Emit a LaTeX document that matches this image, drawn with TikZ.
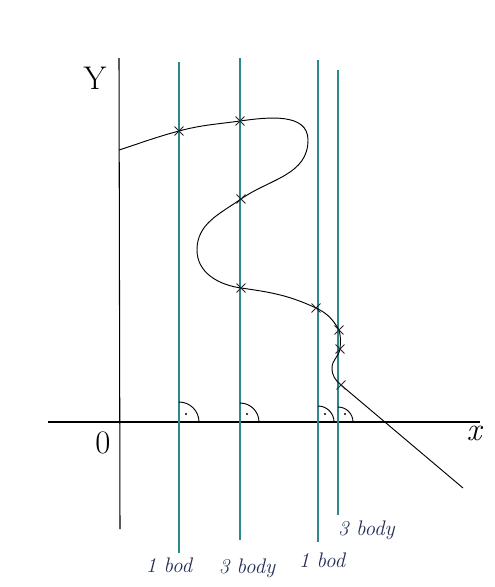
\documentclass[tikz,border=0pt]{standalone}
\usepackage{xcolor}
\usepackage{tikz}
\usetikzlibrary{positioning,shapes.misc}

\definecolor{lineteal}{RGB}{45,135,140}
\definecolor{inkblue}{RGB}{35,45,85}

\begin{document}
\begin{tikzpicture}[x=0.03cm,y=-0.03cm,
  axis/.style={draw=black,line width=0.9pt},
  vline/.style={draw=lineteal,line width=0.95pt},
  xmark/.style={draw=black!85,cross out,line width=0.8pt,minimum size=0.24cm,inner sep=0pt},
  angmark/.style={draw=black,line width=0.8pt},
  hand/.style={text=inkblue,font=\itshape\fontsize{18}{20}\selectfont,inner sep=0pt},
  axlabel/.style={text=black,font=\fontsize{28}{30}\selectfont,inner sep=0pt}]
  \useasboundingbox (0,0) rectangle (494,587);
  % axes
  \coordinate (yb) at (120,529);
  \coordinate (yt) at (119,58);
  \coordinate (xl) at (48,422);
  \coordinate (xr) at (480,422);
  \draw[axis] (yb) -- (yt);
  \draw[axis] (xl) -- (xr);
  \node[axlabel] (ylab) at (95,78) {Y};
  \node[axlabel] (xlab) at (474,433) {\itshape x};
  \node[axlabel] (orig) at (103,443) {0};
  % vertical lines with right angle marks
  \foreach \n/\x/\t/\b/\r in {a/179/62/553/20, b/240/58/540/19, c/318/60/542/16, d/338/70/515/15} {
    \coordinate (top-\n) at (\x,\t);
    \coordinate (bot-\n) at (\x,\b);
    \draw[vline] (top-\n) -- (bot-\n);
    \draw[angmark] (\x,422-\r) arc[start angle=90,end angle=0,radius=\r*0.03cm];
    \fill (\x+7,414) circle (0.9pt);
  }
  \node[hand,below=0.15cm of bot-a,xshift=-0.3cm] (la) {1 bod};
  \node[hand,below=0.57cm of bot-b,xshift=0.21cm] (lb) {3 body};
  \node[hand,below=0.33cm of bot-c,xshift=0.12cm] (lc) {1 bod};
  \node[hand,below=0.18cm of bot-d,anchor=north west] (ld) {3 body};
  % the curve
  \coordinate (s) at (119,150);
  \coordinate (p1) at (179,131);
  \coordinate (p2) at (240,121);
  \coordinate (rt) at (308,140);
  \coordinate (p3) at (241,199);
  \coordinate (lf) at (197,250);
  \coordinate (p4) at (241,288);
  \coordinate (p5) at (316,308);
  \coordinate (p6) at (339,330);
  \coordinate (p7) at (340,349);
  \coordinate (bm) at (332,368);
  \coordinate (p8) at (341,385);
  \coordinate (e) at (463,488);
  \draw[line width=0.8pt] (s) to[out=18,in=195] (p1) to[out=15,in=188] (p2)
    to[out=8,in=90] (rt) to[out=270,in=35] (p3) to[out=215,in=90] (lf)
    to[out=270,in=172] (p4) to[out=-8,in=155] (p5) to[out=-25,in=120] (p6)
    to[out=-75,in=85] (p7) to[out=-100,in=90] (bm) to[out=-90,in=140] (p8) -- (e);
  \foreach \p in {p1,p2,p3,p4,p5,p6,p7,p8}
    \node[xmark] at (\p) {};
\end{tikzpicture}
\end{document}
